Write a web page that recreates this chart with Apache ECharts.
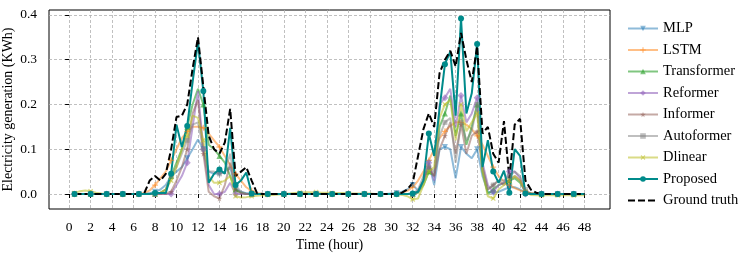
<!DOCTYPE html>
<html>
<head>
<meta charset="utf-8">
<script src="https://cdn.jsdelivr.net/npm/echarts@6/dist/echarts.min.js"></script>
<style>html,body{margin:0;padding:0;background:#fff}#c{width:739px;height:262px}</style>
</head>
<body>
<div id="c"></div>
<script>
const hours = [0.5,1,1.5,2,2.5,3,3.5,4,4.5,5,5.5,6,
6.5,7,7.5,8,8.5,9,9.5,10,10.5,11,11.5,12,
12.5,13,13.5,14,14.5,15,15.5,16,16.5,17,17.5,18,
18.5,19,19.5,20,20.5,21,21.5,22,22.5,23,23.5,24,
24.5,25,25.5,26,26.5,27,27.5,28,28.5,29,29.5,30,
30.5,31,31.5,32,32.5,33,33.5,34,34.5,35,35.5,36,
36.5,37,37.5,38,38.5,39,39.5,40,40.5,41,41.5,42,
42.5,43,43.5,44,44.5,45,45.5,46,46.5,47,47.5,48];
const xTicks = [0,2,4,6,8,10,12,14,16,18,20,22,24,26,28,30,32,34,36,38,40,42,44,46,48];
const yTicks = [0,0.1,0.2,0.3,0.4];

const mlp = [0,0,0,0,0,0,0,0,0,0,0,0,
0,0,0.002,0.005,0.01,0.02,0.04,0.05,0.06,0.08,0.1,0.122,
0.1,0.05,0.045,0.045,0.05,0.06,0.012,0.005,0.002,0,0,0,
0,0,0,0,0,0,0,0,0,0,0,0,
0,0,0,0,0,0,0,0,0,0,0,0.001,
0.002,0.005,0.01,0.02,0.008,0.03,0.07,0.02,0.1,0.105,0.1,0.035,
0.105,0.09,0.08,0.1,0.04,0.005,0.002,0.005,0.01,0.015,0.015,0.01,
0.003,0.002,0,0,0,0,0,0,0,0,0,0];
const lstm = [0,0,0,0,0,0,0,0,0,0,0,0,
0,0.002,0.008,0.02,0.035,0.05,0.075,0.1,0.125,0.14,0.15,0.15,
0.148,0.135,0.12,0.105,0.085,0.065,0.045,0.03,0.015,0.007,0.002,0,
0,0,0,0,0,0,0,0,0,0,0,0,
0,0,0,0,0,0,0,0,0,0,0,0,
0.001,0.003,0.007,0.015,0.03,0.05,0.075,0.1,0.125,0.14,0.152,0.16,
0.16,0.155,0.145,0.13,0.11,0.085,0.06,0.04,0.028,0.02,0.013,0.008,
0.004,0.002,0,0,0,0,0,0,0,0,0,0];
const transformer = [0,0,0,0,0,0,0,0,0,0,0,0,
0,0,0,0,0.002,0.01,0.04,0.07,0.1,0.15,0.2,0.235,
0.2,0.11,0.1,0.085,0.07,0.04,0.01,0.003,0,0,0,0,
0,0,0,0,0,0,0,0,0,0,0,0,
0,0,0,0,0,0,0,0,0,0,0,0,
0,0,0,0,0.003,0.02,0.05,0.04,0.15,0.18,0.22,0.13,
0.18,0.11,0.15,0.2,0.05,0,0.01,0.02,0.025,0.03,0.035,0.025,
0.005,0,0,0,0,0,0,0,0,0,0,0];
const reformer = [0,0,0,0,0,0,0,0,0,0,0,0,
0,0,0,0,0,0,0,0.02,0.04,0.07,0.15,0.23,
0.1,0.02,0,0,0.005,0.025,0,0,0,0,0,0,
0,0,0,0,0,0,0,0,0,0,0,0,
0,0,0,0,0,0,0,0,0,0,0,0,
0,0,0,0,0.005,0.03,0.07,0.03,0.2,0.215,0.235,0.15,
0.22,0.16,0.18,0.215,0.07,0.02,0.005,0.02,0.025,0.05,0.05,0.035,
0,0,0,0,0,0,0,0,0,0,0,0];
const informer = [0,0,0,0,0,0,0,0,0,0,0,0,
0,0,0,0,0,0,0.005,0.03,0.06,0.1,0.18,0.21,
0.09,0.005,-0.005,-0.01,0.02,0.07,0.01,0.002,0,0,0,0,
0,0,0,0,0,0,0,0,0,0,0,0,
0,0,0,0,0,0,0,0,0,0,0,0,
0,0,0,0,0.005,0.03,0.06,0.04,0.1,0.13,0.16,0.09,
0.155,0.09,0.13,0.14,0.06,0.01,0.02,0.03,0.02,0.03,0.04,0.03,
0.005,0,0,0,0,0,0,0,0,0,0,0];
const autoformer = [0,0,0,0,0,0,0,0,0,0,0,0,
0,0,0,0,0.003,0.01,0.04,0.06,0.09,0.12,0.155,0.16,
0.1,0.05,0.05,0.045,0.05,0.09,0.02,0.005,0,0,0,0,
0,0,0,0,0,0,0,0,0,0,0,0,
0,0,0,0,0,0,0,0,0,0,0,0,
0,0,0,0,0.01,0.04,0.06,0.05,0.13,0.16,0.17,0.07,
0.16,0.12,0.14,0.2,0.06,0.01,0.02,0.03,0.03,0.04,0.05,0.04,
0.01,0,0,0,0,0,0,0,0,0,0,0];
const dlinear = [0.002,0.006,0.008,0.006,0.003,0.001,0,0,0,0,0,0,
0,0,0,0,0.003,0.01,0.03,0.06,0.1,0.13,0.175,0.17,
0.12,0.04,0.025,0.025,0.03,0.04,-0.005,-0.008,-0.007,-0.005,-0.004,-0.003,
-0.002,-0.002,-0.001,0,0.001,0.002,0.003,0.004,0.004,0.004,0.003,0.003,
0.002,0.002,0.002,0.001,0.001,0.001,0.001,0.001,0,0,0,0,
0,-0.002,-0.005,-0.012,-0.01,0.02,0.05,0.06,0.17,0.2,0.21,0.12,
0.2,0.14,0.16,0.18,0.05,-0.005,-0.01,0.01,0.02,0.03,0.04,0.03,
0.005,-0.002,-0.003,-0.003,-0.003,-0.003,-0.003,-0.003,-0.003,-0.003,-0.003,-0.003];
const proposed = [0,0,0,0,0,0,0,0,0,0,0,0,
0,0,0,0.002,0.002,0.002,0.045,0.155,0.105,0.152,0.25,0.34,
0.23,0.025,0.045,0.055,0.045,0.148,0.02,0.03,0.048,0.001,0,0,
0,0,0,0,0,0,0,0,0,0,0,0,
0,0,0,0,0,0,0,0,0,0,0,0,
0,0,0,0.001,0.005,0.03,0.135,0.085,0.19,0.29,0.318,0.175,
0.392,0.18,0.225,0.335,0.06,0.12,0.05,0.025,0.052,0.003,0.1,0.085,
0.001,0,0,0,0,0,0,0,0,0,0,0];
const groundTruth = [0,0,0,0,0,0,0,0,0,0,0,0,
0,0.002,0.03,0.04,0.03,0.045,0.1,0.172,0.175,0.2,0.28,0.35,
0.24,0.13,0.1,0.09,0.115,0.19,0.04,0.05,0.06,0.03,0.002,0,
0,0,0,0,0,0,0,0,0,0,0,0,
0,0,0,0,0,0,0,0,0,0,0,0,
0,0.003,0.01,0.025,0.085,0.145,0.18,0.15,0.27,0.3,0.32,0.285,
0.36,0.3,0.25,0.33,0.135,0.15,0.09,0.07,0.163,0.035,0.155,0.168,
0.03,0.01,0.003,0,0,0,0,0,0,0,0,0];

const FONT = '"Liberation Serif", "Times New Roman", serif';
const plusPath = 'path://M-1,-0.22L-0.22,-0.22L-0.22,-1L0.22,-1L0.22,-0.22L1,-0.22L1,0.22L0.22,0.22L0.22,1L-0.22,1L-0.22,0.22L-1,0.22Z';
const starPath = 'path://M0,-1L0.2245,-0.309L0.951,-0.309L0.3633,0.118L0.5878,0.809L0,0.382L-0.5878,0.809L-0.3633,0.118L-0.951,-0.309L-0.2245,-0.309Z';

function pts(arr){ return arr.map((v,i)=>[hours[i], v]); }
function mk(name, arr, color, symbol, size, opacity, extra){
  return Object.assign({
    name: name, type: 'line', data: pts(arr),
    symbol: symbol, showAllSymbol: true,
    symbolSize: function(v, p){ return p.dataIndex % 3 === 0 ? size : 0; },
    lineStyle: {color: color, width: 2, opacity: opacity},
    itemStyle: {color: color, opacity: opacity},
    emphasis: {disabled: true}, animation: false
  }, extra || {});
}

const series = [
  mk('MLP', mlp, '#1f77b4', 'triangle', 6, 0.5, {symbolRotate: 180}),
  mk('LSTM', lstm, '#ff7f0e', plusPath, 6, 0.5),
  mk('Transformer', transformer, '#2ca02c', 'triangle', 6, 0.6),
  mk('Reformer', reformer, '#9467bd', 'diamond', 7, 0.6),
  mk('Informer', informer, '#8c564b', starPath, 6, 0.5),
  mk('Autoformer', autoformer, '#7f7f7f', 'rect', 5, 0.5),
  mk('Dlinear', dlinear, '#bcbd22', plusPath, 6, 0.55, {symbolRotate: 45}),
  mk('Proposed', proposed, '#008b8b', 'circle', 6, 1),
  {name: 'Ground truth', type: 'line', data: pts(groundTruth), symbol: 'none', showSymbol: false,
   lineStyle: {color: '#000', width: 2, type: [7, 3]}, itemStyle: {color: '#000'},
   emphasis: {disabled: true}, animation: false}
];

const legendData = series.map(s => s.name === 'Ground truth'
  ? {name: s.name, itemStyle: {opacity: 0}}
  : {name: s.name});

const chart = echarts.init(document.getElementById('c'), null, {renderer: 'canvas'});
chart.setOption({
  backgroundColor: '#fff',
  animation: false,
  textStyle: {fontFamily: FONT},
  grid: {left: 49, right: 129, top: 10, bottom: 53, show: true, borderColor: '#000', borderWidth: 1,
         containLabel: false, outerBoundsMode: 'none'},
  legend: {
    orient: 'vertical', left: 622, top: 16, itemWidth: 30, itemHeight: 7, itemGap: 6.5,
    textStyle: {fontFamily: FONT, fontSize: 14.5, color: '#000', lineHeight: 14},
    data: legendData
  },
  xAxis: {
    type: 'value', min: -1.875, max: 50.375,
    name: 'Time (hour)', nameLocation: 'middle', nameGap: 29, nameMoveOverlap: false,
    nameTextStyle: {fontFamily: FONT, fontSize: 14, color: '#000'},
    axisLine: {show: false},
    axisTick: {show: true, inside: false, length: 4, lineStyle: {color: '#000', width: 1}, customValues: xTicks},
    axisLabel: {fontFamily: FONT, fontSize: 13.5, color: '#000', margin: 11, customValues: xTicks},
    splitLine: {show: true, lineStyle: {color: '#b0b0b0', type: [3, 2], width: 0.8}}
  },
  yAxis: {
    type: 'value', min: -0.0335, max: 0.411,
    name: 'Electricity generation (KWh)', nameLocation: 'middle', nameGap: 34, nameMoveOverlap: false,
    nameTextStyle: {fontFamily: FONT, fontSize: 14, color: '#000'},
    axisLine: {show: false},
    axisTick: {show: true, inside: false, length: 4, lineStyle: {color: '#000', width: 1}, customValues: yTicks},
    axisLabel: {fontFamily: FONT, fontSize: 13.5, color: '#000', margin: 12, customValues: yTicks,
      formatter: v => v.toFixed(1)},
    splitLine: {show: true, lineStyle: {color: '#b0b0b0', type: [3, 2], width: 0.8}}
  },
  series: series
});
</script>
</body>
</html>
